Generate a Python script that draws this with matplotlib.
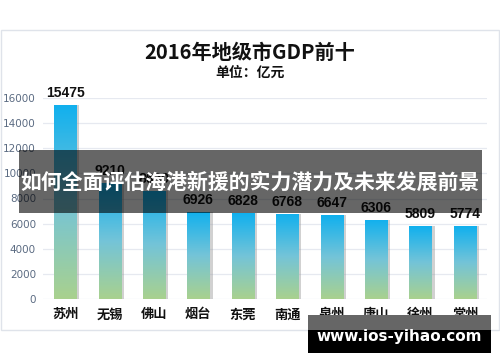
import matplotlib
matplotlib.use("Agg")
import matplotlib.pyplot as plt
import numpy as np
from matplotlib.patches import Rectangle
from matplotlib.colors import LinearSegmentedColormap

plt.rcParams['font.family'] = ['Noto Sans CJK SC', 'DejaVu Sans']

cities = ['苏州', '无锡', '佛山', '烟台', '东莞', '南通', '泉州', '唐山', '徐州', '常州']
gdp = [15475, 9210, 8630, 6926, 6828, 6768, 6647, 6306, 5809, 5774]
yticks = [0, 2000, 4000, 6000, 8000, 10000, 12000, 14000, 16000]

fig = plt.figure(figsize=(5, 3.62), dpi=100)
fig.patch.set_facecolor('white')

# chart frame
frame = Rectangle((0.002, 1 - 330/362), 0.996, (330-30)/362, transform=fig.transFigure,
                  facecolor='white', edgecolor='#dfe3ea', linewidth=1.0, zorder=-5)
fig.patches.append(frame)

ax = fig.add_axes([43/500, 1 - 299/362, 444/500, 201/362])
ax.set_zorder(2)
ax.set_xlim(-0.5, len(cities) - 0.5)
ax.set_ylim(0, 16000)
ax.set_facecolor('none')
for s in ax.spines.values():
    s.set_visible(False)
ax.set_yticks(yticks)
ax.set_yticklabels([str(v) for v in yticks], fontsize=7.5, color='#5b6b82', family='DejaVu Sans')
ax.tick_params(axis='y', length=0, pad=5)
ax.grid(axis='y', color='#e6e9f0', linewidth=0.9)
ax.set_axisbelow(True)
ax.set_xticks(range(len(cities)))
ax.set_xticklabels(cities, fontsize=9.5, fontweight='bold', color='#111111')
ax.tick_params(axis='x', length=0, pad=6)

cmap = LinearSegmentedColormap.from_list('g', ['#a9d18e', '#74c4d8', '#10b0ee'])
grad = np.linspace(0, 1, 256).reshape(-1, 1)
w = 0.5
for i, v in enumerate(gdp):
    # shadow
    ax.bar(i + 0.07, v, width=w, color='#9a9a9a', alpha=0.45, zorder=2, linewidth=0)
    bar = ax.bar(i, v, width=w, color='none', linewidth=0, zorder=3)[0]
    im = ax.imshow(grad, extent=(i - w/2, i + w/2, 0, v), origin='lower', cmap=cmap,
                   aspect='auto', zorder=3)
    im.set_clip_path(bar)
    ax.text(i, v + 400, str(v), ha='center', va='bottom', fontsize=10,
            fontweight='bold', color='#111111', family='Liberation Sans')
ax.set_xlim(-0.5, len(cities) - 0.5)
ax.set_ylim(0, 16000)

fig.text(0.5, 1 - 52/362, '2016年地级市GDP前十', ha='center', va='center',
         fontsize=14.5, fontweight='bold', color='#111111')
fig.text(0.5, 1 - 73/362, '单位：亿元', ha='center', va='center',
         fontsize=10, fontweight='bold', color='#111111')

# overlay axes for band and watermark, drawn on top
top = fig.add_axes([0, 0, 1, 1])
top.set_zorder(10)
top.set_xlim(0, 500)
top.set_ylim(362, 0)
top.axis('off')
top.patch.set_visible(False)
top.add_patch(Rectangle((19, 150), 482 - 19, 213 - 150, facecolor='black', alpha=0.6,
                        edgecolor='none'))
top.text(250, 182, '如何全面评估海港新援的实力潜力及未来发展前景', ha='center', va='center',
         fontsize=15, fontweight='bold', color='white')
top.add_patch(Rectangle((308, 315), 491 - 308, 15, facecolor='#666666', edgecolor='none'))
top.add_patch(Rectangle((308, 330), 491 - 308, 23, facecolor='black', edgecolor='none'))
top.text(399, 337, 'www.ios-yihao.com', ha='center', va='center',
         fontsize=11, fontweight='bold', color='white', family='DejaVu Sans')

fig.savefig('out.png', dpi=100, facecolor='white')
